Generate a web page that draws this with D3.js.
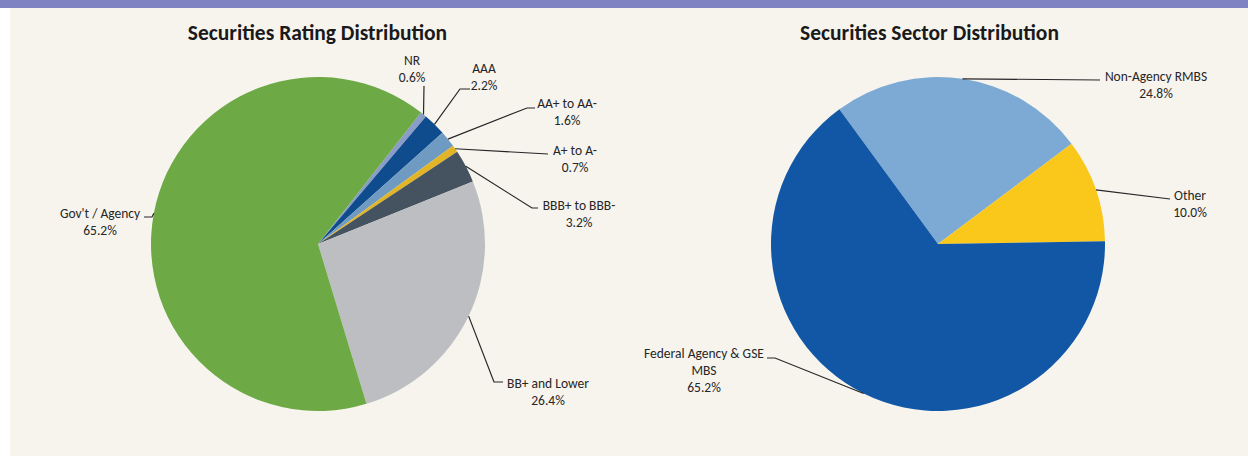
<!DOCTYPE html>
<html>
<head>
<meta charset="utf-8">
<script src="https://cdn.jsdelivr.net/npm/d3@7"></script>
<style>
  html, body { margin: 0; padding: 0; background: #ffffff; }
  svg { display: block; font-family: Carlito, Calibri, "Open Sans", sans-serif; }
</style>
</head>
<body>
<svg id="chart" width="1248" height="456"></svg>
<script>
// rating pie
const ratingLabels = ["NR", "AAA", "AA+ to AA-", "A+ to A-", "BBB+ to BBB-", "BB+ and Lower", "Gov't / Agency"]
const ratingValues = [0.6, 2.2, 1.6, 0.7, 3.2, 26.4, 65.2]
const ratingColors = ["#8a9cc8", "#0e4c8e", "#6f9bc2", "#e2b526", "#45525f", "#bcbec1", "#6da944"]

// sector pie
const sectorLabels = ["Non-Agency RMBS", "Other", "Federal Agency & GSE\nMBS"]
const sectorValues = [24.8, 10.0, 65.2]
const sectorColors = ["#7daad5", "#f9c81a", "#1157a5"]

// leader elbows + text spots, hand placed like the Excel original
const ratingLayout = [
  {elbow: [424, 86], end: [424, 86], tx: 412, ty: 65},
  {elbow: [460, 89], end: [470, 89], tx: 484, ty: 73},
  {elbow: [527, 108], end: [535, 108], tx: 567, ty: 108},
  {elbow: [548, 154], end: [548, 154], tx: 575, ty: 155},
  {elbow: [532, 208], end: [538, 208], tx: 579, ty: 210},
  {elbow: [494, 382], end: [503, 382], tx: 548, ty: 388},
  {elbow: [152, 217], end: [144, 217], tx: 100, ty: 218},
]
const sectorLayout = [
  {elbow: [1100, 80], end: [1100, 80], tx: 1156, ty: 81},
  {elbow: [1170, 199], end: [1170, 199], tx: 1190, ty: 200},
  {elbow: [775, 358], end: [767, 358], tx: 704, ty: 358},
]

const svg = d3.select("#chart")
const W = 1248, H = 456

svg.append("rect").attr("width", W).attr("height", H).attr("fill", "#ffffff")
svg.append("rect").attr("x", 10).attr("y", 0).attr("width", W - 10).attr("height", H).attr("fill", "#f7f4ee")
svg.append("rect").attr("x", 0).attr("y", 0).attr("width", W).attr("height", 8).attr("fill", "#8083c2")

const deg = Math.PI / 180

function drawPie({title, titleX, cx, cy, r, labels, values, colors, layout, startDeg}) {
  svg.append("text")
    .attr("x", titleX)
    .attr("y", 40)
    .attr("text-anchor", "middle")
    .attr("font-size", 21.5)
    .attr("font-weight", "bold")
    .attr("fill", "#1a1a1a")
    .text(title)

  const rows = labels.map((l, i) => ({label: l, value: values[i], color: colors[i], i}))
  const pie = d3.pie().sort(null).value((d) => d.value)
    .startAngle(startDeg * deg).endAngle(startDeg * deg + 2 * Math.PI)
  const arcs = pie(rows)
  const arc = d3.arc().innerRadius(0).outerRadius(r)

  const g = svg.append("g").attr("transform", `translate(${cx},${cy})`)
  g.selectAll("path")
    .data(arcs)
    .join("path")
    .attr("d", arc)
    .attr("fill", (d) => d.data.color)

  const lg = svg.append("g")
  for (const a of arcs) {
    const lay = layout[a.data.i]
    const mid = (a.startAngle + a.endAngle) / 2
    const ax = cx + r * Math.sin(mid)
    const ay = cy - r * Math.cos(mid)
    lg.append("polyline")
      .attr("points", [[ax, ay], lay.elbow, lay.end].map((p) => p.join(",")).join(" "))
      .attr("fill", "none")
      .attr("stroke", "#262626")
      .attr("stroke-width", 1.2)

    const lines = a.data.label.split("\n").concat([d3.format(".1f")(a.data.value) + "%"])
    const t = lg.append("text")
      .attr("text-anchor", "middle")
      .attr("font-size", 13.5)
      .attr("fill", "#262626")
    lines.forEach((s, k) => {
      t.append("tspan").attr("x", lay.tx).attr("y", lay.ty + k * 17).text(s)
    })
  }
}

drawPie({
  title: "Securities Rating Distribution", titleX: 317.5,
  cx: 318, cy: 244, r: 167,
  labels: ratingLabels, values: ratingValues, colors: ratingColors,
  layout: ratingLayout, startDeg: 38.1,
})

drawPie({
  title: "Securities Sector Distribution", titleX: 929.5,
  cx: 938, cy: 244, r: 167,
  labels: sectorLabels, values: sectorValues, colors: sectorColors,
  layout: sectorLayout, startDeg: -36.2,
})
</script>
</body>
</html>
